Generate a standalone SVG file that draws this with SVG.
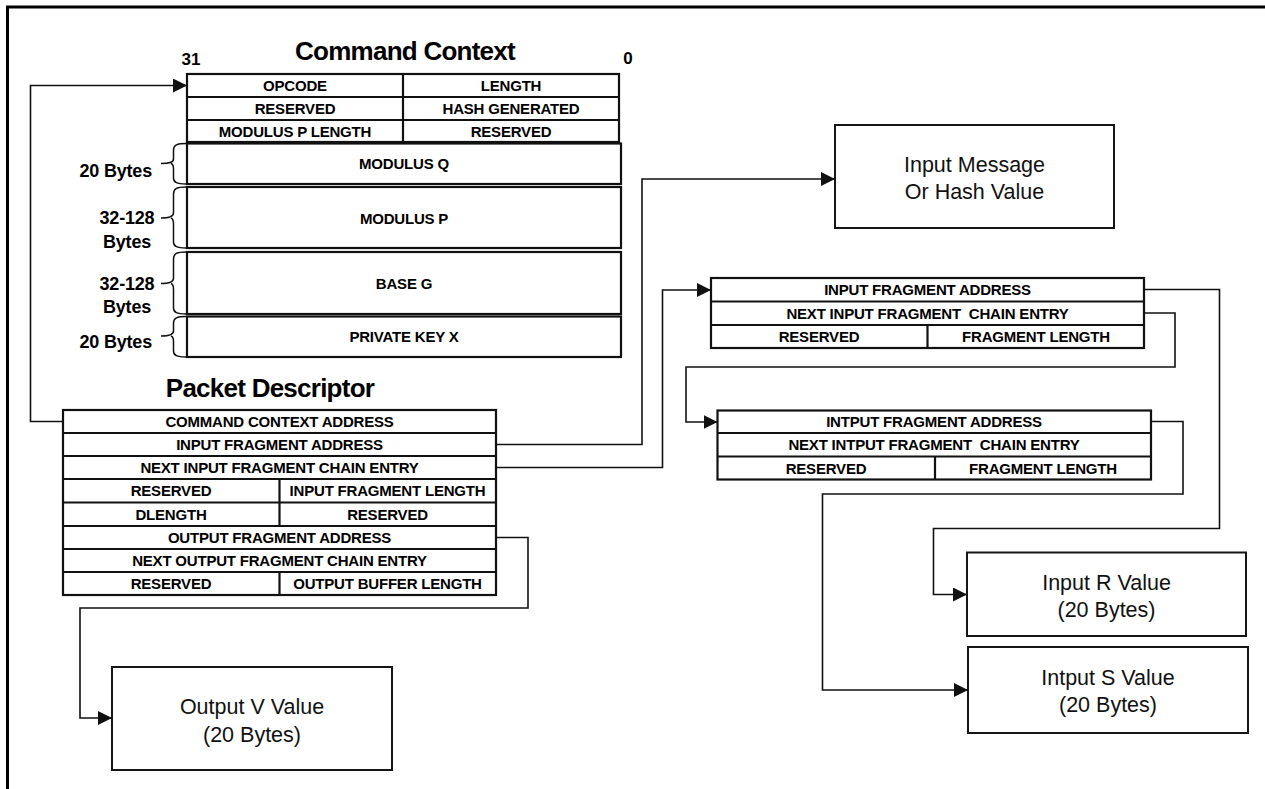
<svg xmlns="http://www.w3.org/2000/svg" width="1265" height="789" viewBox="0 0 1265 789">
  <defs>
    <marker id="arrow" markerWidth="14" markerHeight="14" refX="14" refY="7" orient="auto" markerUnits="userSpaceOnUse">
      <path d="M0,0 L14,7 L0,14 z" fill="#111"/>
    </marker>
    <style>
      .grid { fill: #fff; stroke: #111; stroke-width: 2.2; }
      .rule { stroke: #111; stroke-width: 2.2; fill: none; }
      .box { fill: #fff; stroke: #161616; stroke-width: 2; }
      .wire { fill: none; stroke: #111; stroke-width: 1.6; }
      .brace { fill: none; stroke: #111; stroke-width: 1.5; }
      .cell { font-family: "Liberation Sans", Arial, sans-serif; font-weight: bold; font-size: 15px; letter-spacing: -0.2px; text-anchor: middle; fill: #000; }
      .title { font-family: "Liberation Sans", Arial, sans-serif; font-weight: bold; font-size: 26px; letter-spacing: -0.75px; text-anchor: middle; fill: #000; }
      .bits { font-family: "Liberation Sans", Arial, sans-serif; font-weight: bold; font-size: 17px; fill: #000; text-anchor: middle; }
      .size { font-family: "Liberation Sans", Arial, sans-serif; font-weight: bold; font-size: 18px; letter-spacing: -0.2px; fill: #000; }
      .label { font-family: "Liberation Sans", Arial, sans-serif; font-size: 21.5px; text-anchor: middle; fill: #111; }
    </style>
  </defs>

  <rect width="1265" height="789" fill="#fff"/>

  <!-- page frame: top and left edges only -->
  <g id="frame">
    <path d="M7.5,789 V7 H1265" fill="none" stroke="#000" stroke-width="3"/>
  </g>

  <!-- Command Context block -->
  <g id="command-context">
    <text class="title" x="405" y="60">Command Context</text>
    <text class="bits" x="191" y="65">31</text>
    <text class="bits" x="628" y="64">0</text>

    <rect class="grid" x="187" y="74" width="432" height="68"/>
    <path class="rule" d="M187,97 H619 M187,120 H619 M403,74 V142"/>
    <text class="cell" x="295" y="91">OPCODE</text>
    <text class="cell" x="511" y="91">LENGTH</text>
    <text class="cell" x="295" y="114">RESERVED</text>
    <text class="cell" x="511" y="114">HASH GENERATED</text>
    <text class="cell" x="295" y="136.5">MODULUS P LENGTH</text>
    <text class="cell" x="511" y="136.5">RESERVED</text>

    <rect class="grid" x="187" y="143.5" width="434" height="40.5"/>
    <rect class="grid" x="187" y="187" width="434" height="61"/>
    <rect class="grid" x="187" y="252" width="434" height="62"/>
    <rect class="grid" x="187" y="316.5" width="434" height="40.5"/>
    <text class="cell" x="404" y="169">MODULUS Q</text>
    <text class="cell" x="404" y="223.5">MODULUS P</text>
    <text class="cell" x="404" y="289">BASE G</text>
    <text class="cell" x="404" y="342">PRIVATE KEY X</text>

    <!-- size braces -->
    <path class="brace" d="M186,143.5 C177,143.5 173.5,145 173.5,150 V159 C173.5,162 171,163.5 161,163.5 M171,163.5 C172.5,164 173.5,166 173.5,169 V178 C173.5,182.5 177,184 186,184"/>
    <path class="brace" d="M186,187 C177,187 173.5,188.5 173.5,194 V213 C173.5,216 171,218 161,218 M171,218 C172.5,218.5 173.5,220.5 173.5,224 V242 C173.5,246.5 177,248 186,248"/>
    <path class="brace" d="M186,252 C177,252 173.5,253.5 173.5,259 V278.5 C173.5,281.5 171,283.5 161,283.5 M171,283.5 C172.5,284 173.5,286 173.5,289.5 V308 C173.5,312.5 177,314 186,314"/>
    <path class="brace" d="M186,316.5 C177,316.5 173.5,318 173.5,323 V331 C173.5,334 171,336 161,336 M171,336 C172.5,336.5 173.5,338.5 173.5,341.5 V351 C173.5,355.5 177,357 186,357"/>
    <text class="size" x="152" y="177" text-anchor="end">20 Bytes</text>
    <text class="size" x="127" y="224" text-anchor="middle">32-128</text>
    <text class="size" x="127" y="247.5" text-anchor="middle">Bytes</text>
    <text class="size" x="127" y="290" text-anchor="middle">32-128</text>
    <text class="size" x="127" y="313" text-anchor="middle">Bytes</text>
    <text class="size" x="152" y="348" text-anchor="end">20 Bytes</text>
  </g>

  <!-- Packet Descriptor block -->
  <g id="packet-descriptor">
    <text class="title" x="270" y="397">Packet Descriptor</text>
    <rect class="grid" x="63" y="410" width="433" height="185"/>
    <path class="rule" d="M63,433 H496 M63,456 H496 M63,479 H496 M63,502.5 H496 M63,526 H496 M63,549 H496 M63,572 H496 M279.5,479 V526 M279.5,572 V595"/>
    <text class="cell" x="279.5" y="427">COMMAND CONTEXT ADDRESS</text>
    <text class="cell" x="279.5" y="450">INPUT FRAGMENT ADDRESS</text>
    <text class="cell" x="279.5" y="473">NEXT INPUT FRAGMENT CHAIN ENTRY</text>
    <text class="cell" x="171" y="496">RESERVED</text>
    <text class="cell" x="387.5" y="496">INPUT FRAGMENT LENGTH</text>
    <text class="cell" x="171" y="519.5">DLENGTH</text>
    <text class="cell" x="387.5" y="519.5">RESERVED</text>
    <text class="cell" x="279.5" y="543">OUTPUT FRAGMENT ADDRESS</text>
    <text class="cell" x="279.5" y="566">NEXT OUTPUT FRAGMENT CHAIN ENTRY</text>
    <text class="cell" x="171" y="589">RESERVED</text>
    <text class="cell" x="387.5" y="589">OUTPUT BUFFER LENGTH</text>
  </g>

  <!-- first input fragment descriptor -->
  <g id="fragment-1">
    <rect class="grid" x="711" y="278" width="433" height="70"/>
    <path class="rule" d="M711,301.5 H1144 M711,325 H1144 M927.5,325 V348"/>
    <text class="cell" x="927.5" y="295">INPUT FRAGMENT ADDRESS</text>
    <text class="cell" x="927.5" y="318.5" xml:space="preserve">NEXT INPUT FRAGMENT  CHAIN ENTRY</text>
    <text class="cell" x="819" y="342">RESERVED</text>
    <text class="cell" x="1036" y="342">FRAGMENT LENGTH</text>
  </g>

  <!-- second input fragment descriptor -->
  <g id="fragment-2">
    <rect class="grid" x="717.5" y="410.5" width="433.5" height="69"/>
    <path class="rule" d="M717.5,433 H1151 M717.5,456.5 H1151 M935,456.5 V479.5"/>
    <text class="cell" x="934" y="427">INTPUT FRAGMENT ADDRESS</text>
    <text class="cell" x="934" y="450" xml:space="preserve">NEXT INTPUT FRAGMENT  CHAIN ENTRY</text>
    <text class="cell" x="826" y="473.5">RESERVED</text>
    <text class="cell" x="1043" y="473.5">FRAGMENT LENGTH</text>
  </g>

  <!-- data buffers -->
  <g id="input-message">
    <rect class="box" x="835" y="125" width="279" height="103"/>
    <text class="label" x="974.5" y="171.5">Input Message</text>
    <text class="label" x="974.5" y="199">Or Hash Value</text>
  </g>
  <g id="input-r">
    <rect class="box" x="967" y="552.5" width="279" height="83.5"/>
    <text class="label" x="1106.5" y="590">Input R Value</text>
    <text class="label" x="1106.5" y="617">(20 Bytes)</text>
  </g>
  <g id="input-s">
    <rect class="box" x="968" y="647" width="280" height="86"/>
    <text class="label" x="1108" y="685">Intput S Value</text>
    <text class="label" x="1108" y="712">(20 Bytes)</text>
  </g>
  <g id="output-v">
    <rect class="box" x="112" y="667" width="280" height="103"/>
    <text class="label" x="252" y="714">Output V Value</text>
    <text class="label" x="252" y="742">(20 Bytes)</text>
  </g>

  <!-- pointer connectors -->
  <g id="connectors">
    <path class="wire" marker-end="url(#arrow)" d="M63,421.5 H30.5 V85.5 H187"/>
    <path class="wire" marker-end="url(#arrow)" d="M496,444.5 H642 V179 H835"/>
    <path class="wire" marker-end="url(#arrow)" d="M496,467.5 H662.5 V290 H711"/>
    <path class="wire" marker-end="url(#arrow)" d="M496,537.5 H528 V608 H80 V718 H112"/>
    <path class="wire" marker-end="url(#arrow)" d="M1144,289.5 H1219.5 V528.5 H933.5 V594.5 H967"/>
    <path class="wire" marker-end="url(#arrow)" d="M1144,313 H1175 V367 H686 V422 H717.5"/>
    <path class="wire" marker-end="url(#arrow)" d="M1151,421.5 H1183 V494 H822.5 V690 H968"/>
  </g>
</svg>
